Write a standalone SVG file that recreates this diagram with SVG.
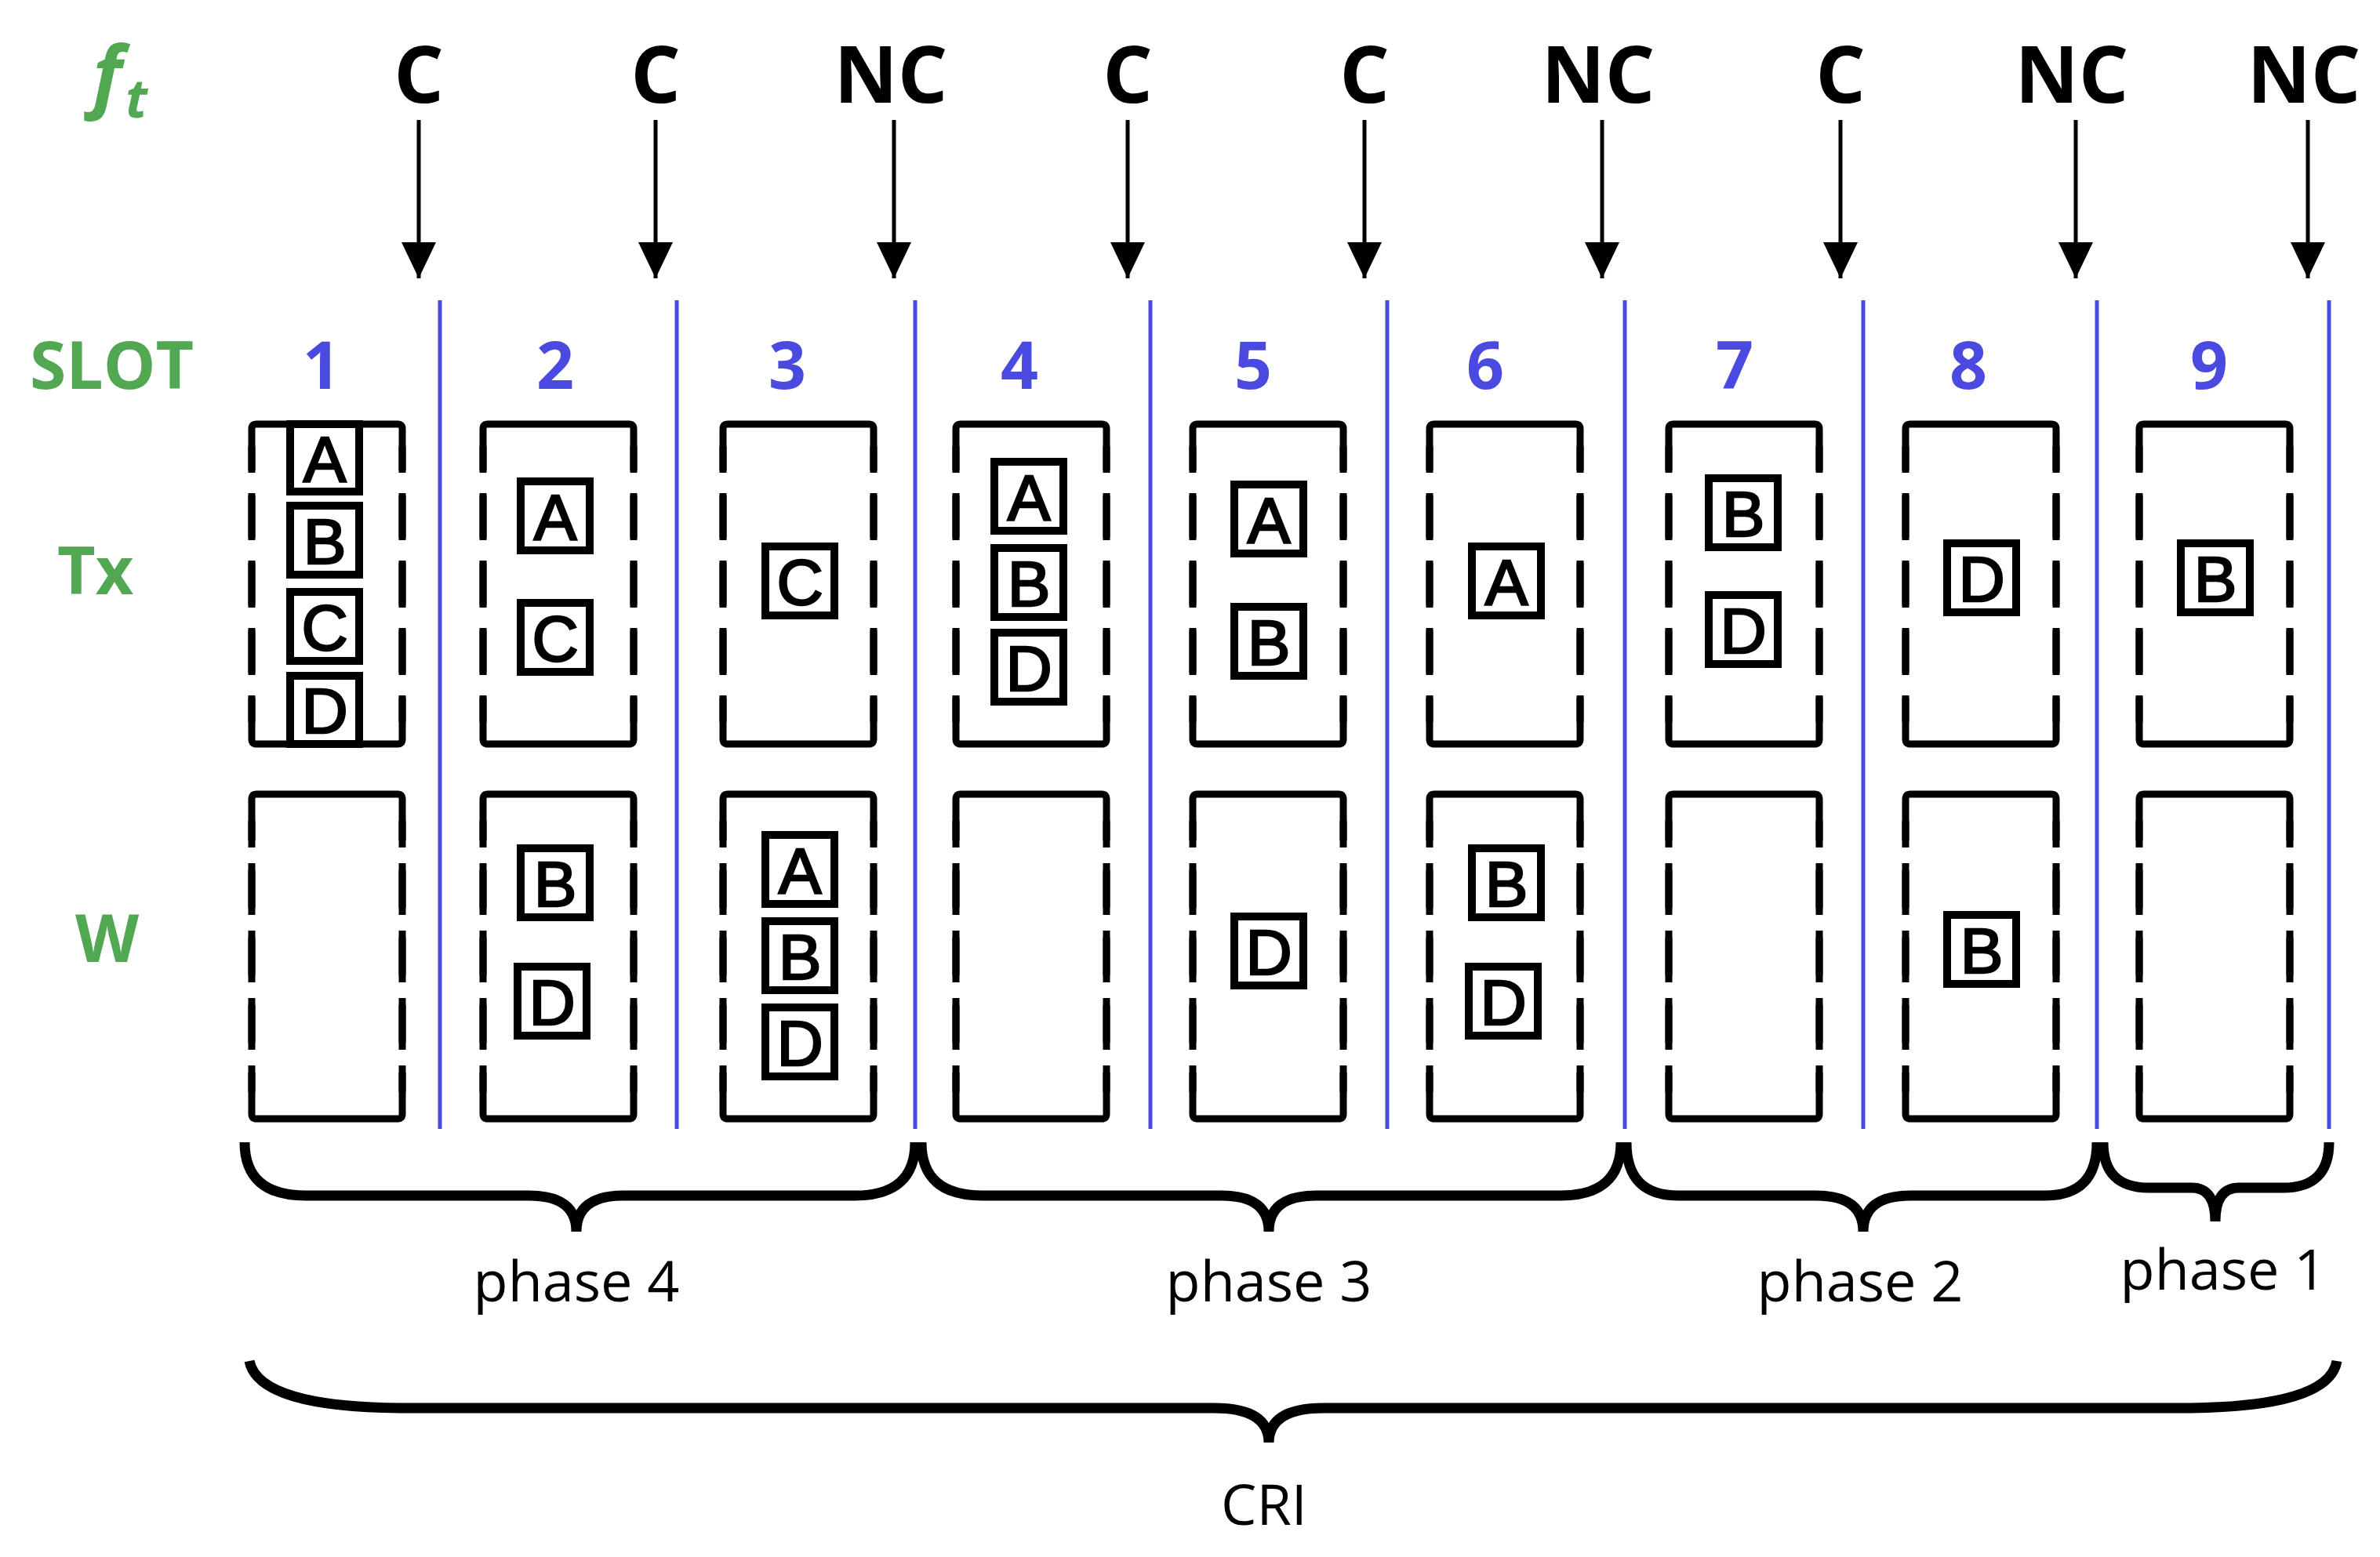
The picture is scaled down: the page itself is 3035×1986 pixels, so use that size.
<svg xmlns="http://www.w3.org/2000/svg" width="3035" height="1986" viewBox="0 0 3035 1986">
<style>
.g{fill:#52A852;font-family:"Open Sans",sans-serif;font-weight:bold}
.n{fill:#4A4AE0;font-family:"Open Sans",sans-serif;font-weight:bold;font-size:84px;text-anchor:middle}
.c{fill:#000;font-family:"Open Sans",sans-serif;font-weight:bold;font-size:100px;text-anchor:middle}
.s{stroke:#000;stroke-width:9;fill:none;stroke-linecap:butt;stroke-linejoin:round}
.d{stroke:#000;stroke-width:9;stroke-dasharray:57 29}
.v{stroke:#4A4AE0;stroke-width:5}
.a{stroke:#000;stroke-width:5}
.lb{fill:#fff;stroke:#000;stroke-width:10}
.lt{font-family:"Liberation Sans",sans-serif;font-size:82px;text-anchor:middle;stroke:#000;stroke-width:2.5}
.br{stroke:#000;stroke-width:13;fill:none}
.p{font-family:"Open Sans",sans-serif;font-size:72px;text-anchor:middle}
</style>
<defs>
<marker id="ah" markerUnits="userSpaceOnUse" markerWidth="48" markerHeight="44" refX="46" refY="22" orient="auto"><path d="M0,0 L46,22 L0,44 Z"/></marker>
<symbol id="bx" overflow="visible"><path class="s" d="M0,59 V6 Q0,0 6,0 H186 Q192,0 192,6 V59"/><line class="d" x1="0" y1="88" x2="0" y2="380"/><line class="d" x1="192" y1="88" x2="192" y2="380"/></symbol>
</defs>
<g id="labels">
<text class="g" x="118" y="131" font-size="100" font-style="italic">f</text><text class="g" x="160" y="150" font-size="68" font-style="italic">t</text>
<text class="g" x="38" y="496" font-size="84">SLOT</text>
<text class="g" x="73" y="758" font-size="84">Tx</text>
<text class="g" x="96" y="1227" font-size="84">W</text>
</g>
<g id="connectors">
<line class="a" x1="534" y1="153" x2="534" y2="355" marker-end="url(#ah)"/>
<line class="a" x1="836" y1="153" x2="836" y2="355" marker-end="url(#ah)"/>
<line class="a" x1="1140" y1="153" x2="1140" y2="355" marker-end="url(#ah)"/>
<line class="a" x1="1438" y1="153" x2="1438" y2="355" marker-end="url(#ah)"/>
<line class="a" x1="1740" y1="153" x2="1740" y2="355" marker-end="url(#ah)"/>
<line class="a" x1="2043" y1="153" x2="2043" y2="355" marker-end="url(#ah)"/>
<line class="a" x1="2347" y1="153" x2="2347" y2="355" marker-end="url(#ah)"/>
<line class="a" x1="2647" y1="153" x2="2647" y2="355" marker-end="url(#ah)"/>
<line class="a" x1="2943" y1="153" x2="2943" y2="355" marker-end="url(#ah)"/>
</g>
<g id="feedback">
<text class="c" x="534" y="131">C</text><text class="c" x="836" y="131">C</text><text class="c" x="1136" y="131">NC</text>
<text class="c" x="1438" y="131">C</text><text class="c" x="1740" y="131">C</text><text class="c" x="2038" y="131">NC</text>
<text class="c" x="2347" y="131">C</text><text class="c" x="2642" y="131">NC</text><text class="c" x="2938" y="131">NC</text>
</g>
<g id="dividers">
<line class="v" x1="561" y1="383" x2="561" y2="1440"/><line class="v" x1="863" y1="383" x2="863" y2="1440"/>
<line class="v" x1="1167" y1="383" x2="1167" y2="1440"/><line class="v" x1="1467" y1="383" x2="1467" y2="1440"/>
<line class="v" x1="1769" y1="383" x2="1769" y2="1440"/><line class="v" x1="2072" y1="383" x2="2072" y2="1440"/>
<line class="v" x1="2376" y1="383" x2="2376" y2="1440"/><line class="v" x1="2674" y1="383" x2="2674" y2="1440"/>
<line class="v" x1="2970" y1="383" x2="2970" y2="1440"/>
</g>
<g id="slotnums">
<text class="n" x="410" y="496">1</text><text class="n" x="708" y="496">2</text><text class="n" x="1004" y="496">3</text>
<text class="n" x="1300" y="496">4</text><text class="n" x="1598" y="496">5</text><text class="n" x="1894" y="496">6</text>
<text class="n" x="2212" y="496">7</text><text class="n" x="2510" y="496">8</text><text class="n" x="2817" y="496">9</text>
</g>
<g id="boxes">
<g id="tx-frames">
<use href="#bx" x="321" y="541"/><use href="#bx" transform="translate(321,949) scale(1,-1)"/>
<use href="#bx" x="616" y="541"/><use href="#bx" transform="translate(616,949) scale(1,-1)"/>
<use href="#bx" x="922" y="541"/><use href="#bx" transform="translate(922,949) scale(1,-1)"/>
<use href="#bx" x="1219" y="541"/><use href="#bx" transform="translate(1219,949) scale(1,-1)"/>
<use href="#bx" x="1521" y="541"/><use href="#bx" transform="translate(1521,949) scale(1,-1)"/>
<use href="#bx" x="1823" y="541"/><use href="#bx" transform="translate(1823,949) scale(1,-1)"/>
<use href="#bx" x="2128" y="541"/><use href="#bx" transform="translate(2128,949) scale(1,-1)"/>
<use href="#bx" x="2430" y="541"/><use href="#bx" transform="translate(2430,949) scale(1,-1)"/>
<use href="#bx" x="2728" y="541"/><use href="#bx" transform="translate(2728,949) scale(1,-1)"/>
</g>
<g id="w-frames">
<use href="#bx" x="321" y="1013"/><use href="#bx" transform="translate(321,1427) scale(1,-1)"/>
<use href="#bx" x="616" y="1013"/><use href="#bx" transform="translate(616,1427) scale(1,-1)"/>
<use href="#bx" x="922" y="1013"/><use href="#bx" transform="translate(922,1427) scale(1,-1)"/>
<use href="#bx" x="1219" y="1013"/><use href="#bx" transform="translate(1219,1427) scale(1,-1)"/>
<use href="#bx" x="1521" y="1013"/><use href="#bx" transform="translate(1521,1427) scale(1,-1)"/>
<use href="#bx" x="1823" y="1013"/><use href="#bx" transform="translate(1823,1427) scale(1,-1)"/>
<use href="#bx" x="2128" y="1013"/><use href="#bx" transform="translate(2128,1427) scale(1,-1)"/>
<use href="#bx" x="2430" y="1013"/><use href="#bx" transform="translate(2430,1427) scale(1,-1)"/>
<use href="#bx" x="2728" y="1013"/><use href="#bx" transform="translate(2728,1427) scale(1,-1)"/>
</g>
</g>
<g id="packets">
<g><rect class="lb" x="370" y="541" width="88" height="86"/><text class="lt" x="414" y="614">A</text></g>
<g><rect class="lb" x="370" y="645" width="88" height="88"/><text class="lt" x="414" y="719">B</text></g>
<g><rect class="lb" x="370" y="755" width="88" height="88"/><text class="lt" x="414" y="829">C</text></g>
<g><rect class="lb" x="370" y="862" width="88" height="87"/><text class="lt" x="414" y="935">D</text></g>
<g><rect class="lb" x="664" y="614" width="88" height="88"/><text class="lt" x="708" y="688">A</text></g>
<g><rect class="lb" x="664" y="769" width="88" height="88"/><text class="lt" x="708" y="843">C</text></g>
<g><rect class="lb" x="664" y="1082" width="88" height="88"/><text class="lt" x="708" y="1156">B</text></g>
<g><rect class="lb" x="660" y="1233" width="88" height="88"/><text class="lt" x="704" y="1307">D</text></g>
<g><rect class="lb" x="976" y="697" width="88" height="88"/><text class="lt" x="1020" y="771">C</text></g>
<g><rect class="lb" x="976" y="1065" width="88" height="88"/><text class="lt" x="1020" y="1139">A</text></g>
<g><rect class="lb" x="976" y="1175" width="88" height="88"/><text class="lt" x="1020" y="1249">B</text></g>
<g><rect class="lb" x="976" y="1285" width="88" height="88"/><text class="lt" x="1020" y="1359">D</text></g>
<g><rect class="lb" x="1268" y="589" width="88" height="88"/><text class="lt" x="1312" y="663">A</text></g>
<g><rect class="lb" x="1268" y="699" width="88" height="88"/><text class="lt" x="1312" y="773">B</text></g>
<g><rect class="lb" x="1268" y="807" width="88" height="88"/><text class="lt" x="1312" y="881">D</text></g>
<g><rect class="lb" x="1574" y="618" width="88" height="88"/><text class="lt" x="1618" y="692">A</text></g>
<g><rect class="lb" x="1574" y="774" width="88" height="88"/><text class="lt" x="1618" y="848">B</text></g>
<g><rect class="lb" x="1574" y="1169" width="88" height="88"/><text class="lt" x="1618" y="1243">D</text></g>
<g><rect class="lb" x="1877" y="697" width="88" height="88"/><text class="lt" x="1921" y="771">A</text></g>
<g><rect class="lb" x="1877" y="1082" width="88" height="88"/><text class="lt" x="1921" y="1156">B</text></g>
<g><rect class="lb" x="1873" y="1233" width="88" height="88"/><text class="lt" x="1917" y="1307">D</text></g>
<g><rect class="lb" x="2179" y="610" width="88" height="88"/><text class="lt" x="2223" y="684">B</text></g>
<g><rect class="lb" x="2179" y="759" width="88" height="88"/><text class="lt" x="2223" y="833">D</text></g>
<g><rect class="lb" x="2483" y="693" width="88" height="88"/><text class="lt" x="2527" y="767">D</text></g>
<g><rect class="lb" x="2483" y="1167" width="88" height="88"/><text class="lt" x="2527" y="1241">B</text></g>
<g><rect class="lb" x="2781" y="693" width="88" height="88"/><text class="lt" x="2825" y="767">B</text></g>
</g>
<g id="braces">
<path class="br" d="M312,1457 Q312,1525 390,1525 H675 Q735,1525 735,1571 Q735,1525 795,1525 H1090 Q1167,1525 1167,1457"/>
<path class="br" d="M1175,1457 Q1175,1525 1253,1525 H1558 Q1618,1525 1618,1571 Q1618,1525 1678,1525 H1990 Q2067,1525 2067,1457"/>
<path class="br" d="M2074,1457 Q2074,1525 2140,1525 H2316 Q2376,1525 2376,1571 Q2376,1525 2436,1525 H2608 Q2674,1525 2674,1457"/>
<path class="br" d="M2682,1457 Q2682,1515 2740,1515 H2795 Q2825,1515 2825,1558 Q2825,1515 2855,1515 H2912 Q2970,1515 2970,1457"/>
<path class="br" d="M318,1736 Q330,1796 520,1796 H1548 Q1618,1796 1618,1840 Q1618,1796 1688,1796 H2780 Q2970,1796 2980,1736"/>
<text class="p" x="735" y="1660">phase 4</text>
<text class="p" x="1618" y="1660">phase 3</text>
<text class="p" x="2372" y="1660">phase 2</text>
<text class="p" x="2835" y="1645">phase 1</text>
<text class="p" x="1612" y="1945">CRI</text>
</g>
</svg>
